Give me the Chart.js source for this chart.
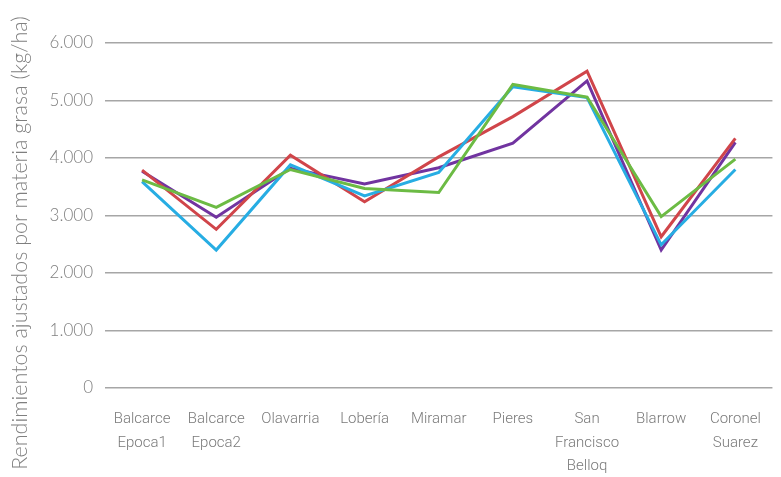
<!DOCTYPE html>
<html>
<head>
<meta charset="utf-8">
<script src="https://cdn.jsdelivr.net/npm/chart.js@4/dist/chart.umd.min.js"></script>
<style>
  html, body { margin: 0; padding: 0; background: #fff; }
  #wrap { width: 781px; height: 477px; }
</style>
</head>
<body>
<div id="wrap"><canvas id="chart"></canvas></div>
<script>
const categories = [
  ['Balcarce', 'Epoca1'], ['Balcarce', 'Epoca2'], 'Olavarria', 'Lobería', 'Miramar',
  'Pieres', ['San', 'Francisco', 'Belloq'], 'Blarrow', ['Coronel', 'Suarez']
];
const serieRoja   = [3790, 2760, 4050, 3240, 4020, 4720, 5510, 2630, 4340];
const serieVerde  = [3620, 3140, 3800, 3470, 3400, 5280, 5060, 2980, 3980];
const serieVioleta= [3770, 2970, 3820, 3550, 3830, 4260, 5340, 2400, 4270];
const serieAzul   = [3590, 2400, 3880, 3340, 3750, 5240, 5050, 2490, 3800];
const yTicks = [0, 1000, 2000, 3000, 4000, 5000, 6000];
const yTitle = 'Rendimientos ajustados por materia grasa (kg/ha)';

const fmt = v => v === 0 ? '0' : v.toLocaleString('de-DE');
const mk = (data, color) => ({
  data, borderColor: color, backgroundColor: color, borderWidth: 3,
  pointRadius: 0, tension: 0, fill: false
});

// axis title drawn by hand: in the original it is centred on the whole height
const titlePlugin = {
  id: 'yTitle',
  afterDraw(chart) {
    const c = chart.ctx;
    c.save();
    c.translate(20, 243);
    c.rotate(-Math.PI / 2);
    c.font = '300 21.5px Lato';
    c.fillStyle = '#7f7f7f';
    c.textAlign = 'center';
    c.textBaseline = 'middle';
    c.fillText(yTitle, 0, 0);
    c.restore();
  }
};

const ctx = document.getElementById('chart').getContext('2d');
new Chart(ctx, {
  type: 'line',
  data: {
    labels: categories,
    datasets: [
      mk(serieVerde, '#6cbb44'),
      mk(serieAzul, '#27ade3'),
      mk(serieRoja, '#d0454a'),
      mk(serieVioleta, '#7134a0')
    ]
  },
  plugins: [titlePlugin],
  options: {
    responsive: true,
    maintainAspectRatio: false,
    animation: false,
    layout: { padding: { top: 43, right: 4, left: 0, bottom: 0 } },
    plugins: { legend: { display: false }, tooltip: { enabled: false } },
    scales: {
      x: {
        offset: true,
        afterFit: s => { s.height = 89; },
        grid: { display: false, drawTicks: false },
        border: { display: false },
        ticks: {
          color: '#7a7a7a', padding: 20, maxRotation: 0, autoSkip: false,
          font: { family: 'Roboto', size: 15, weight: 300, lineHeight: 1.55 }
        }
      },
      y: {
        min: 0, max: 6000,
        afterBuildTicks: s => { s.ticks = yTicks.map(v => ({ value: v })); },
        afterFit: s => { s.width = 105; },
        grid: { color: '#a6a6a6', lineWidth: 1.5, drawTicks: false },
        border: { display: false },
        ticks: {
          color: '#808080', padding: 12,
          font: { family: 'Lato', size: 17, weight: 300 },
          callback: v => fmt(v)
        }
      }
    }
  }
});
</script>
</body>
</html>
